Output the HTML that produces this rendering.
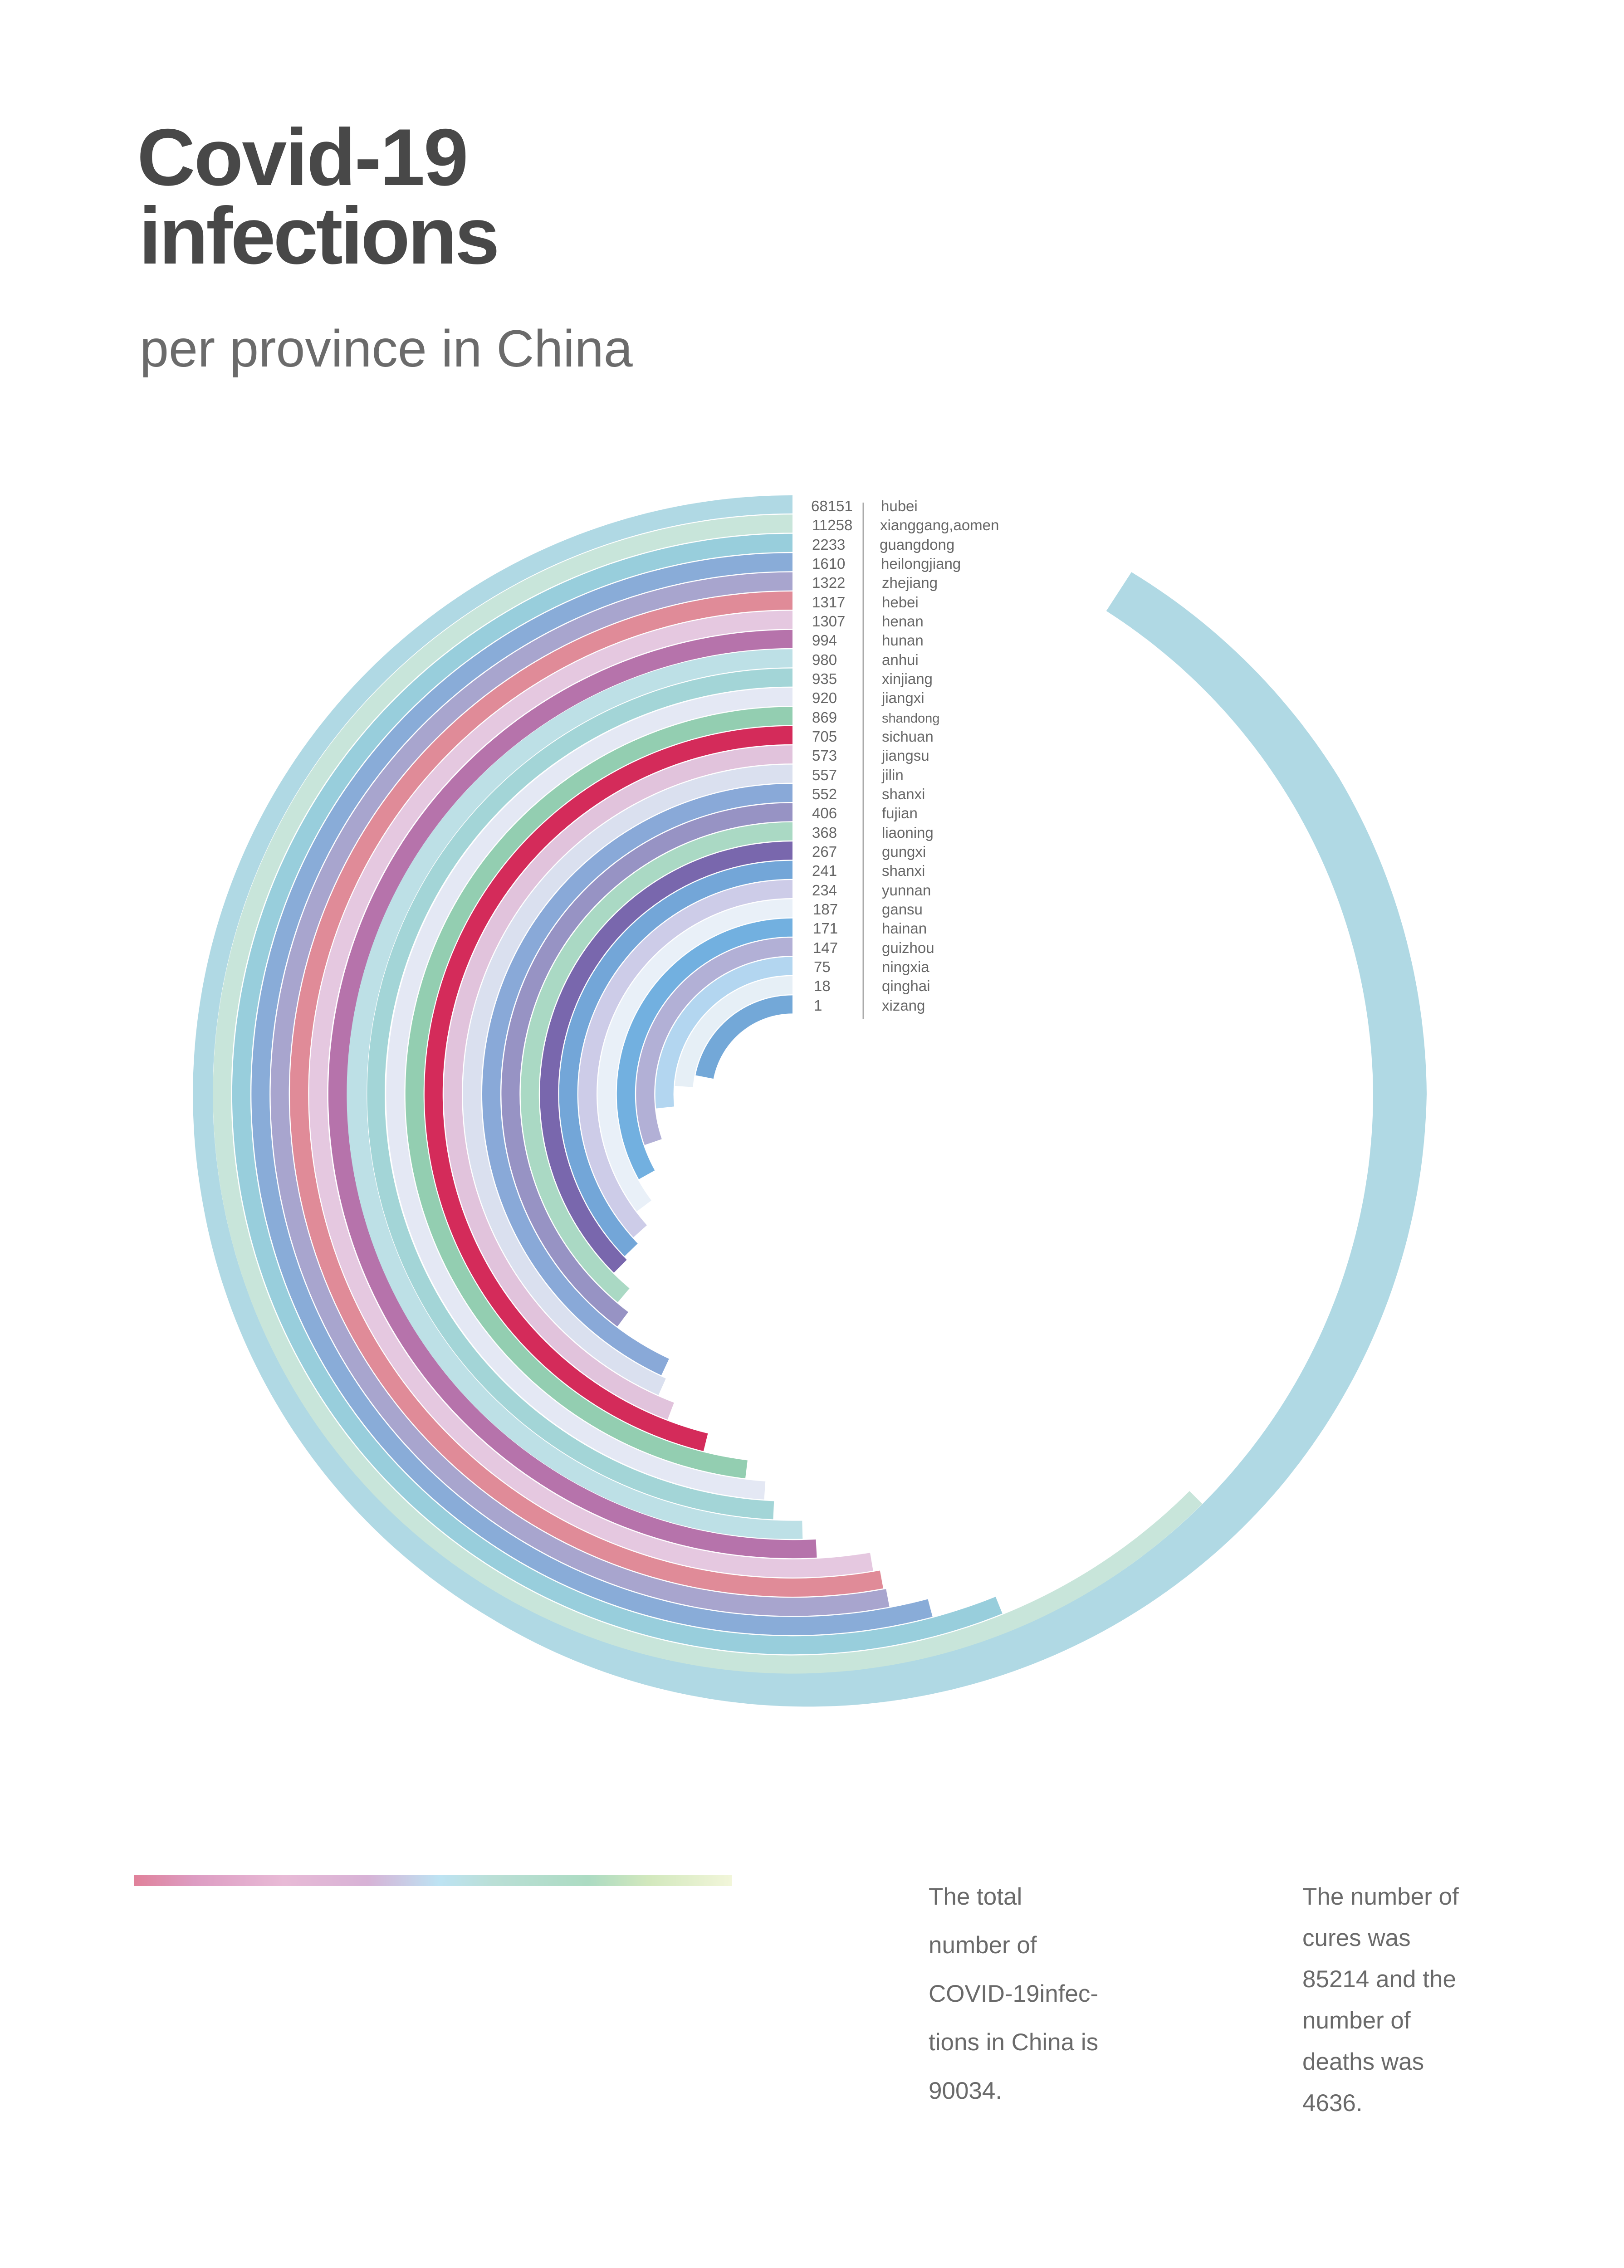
<!DOCTYPE html>
<html><head><meta charset="utf-8"><style>
html,body{margin:0;padding:0;background:#fff;width:3580px;height:5033px;overflow:hidden;}
svg{display:block;}
</style></head><body>
<svg id="s" width="3580" height="5033" viewBox="0 0 3580 5033" xmlns="http://www.w3.org/2000/svg">
<defs>
<linearGradient id="g" x1="0" x2="1" y1="0" y2="0">
<stop offset="0" stop-color="#e0819a"/>
<stop offset="0.1" stop-color="#dd9cc2"/>
<stop offset="0.25" stop-color="#e8bad6"/>
<stop offset="0.39" stop-color="#d7b2d6"/>
<stop offset="0.51" stop-color="#bde3f3"/>
<stop offset="0.6" stop-color="#badfd6"/>
<stop offset="0.76" stop-color="#acdbc2"/>
<stop offset="0.86" stop-color="#d2e8bd"/>
<stop offset="1" stop-color="#f2f6da"/>
</linearGradient>
</defs>
<rect width="3580" height="5033" fill="#fff"/>
<g id="arcs"></g>
<text x="302" y="408" font-family="Liberation Sans, sans-serif" font-weight="bold" font-size="178" fill="#484848" letter-spacing="-3">Covid-19</text>
<text x="306" y="581" font-family="Liberation Sans, sans-serif" font-weight="bold" font-size="178" fill="#484848" letter-spacing="-5">infections</text>
<text x="308" y="808" font-family="Liberation Sans, sans-serif" font-size="115" fill="#6b6b6b">per province in China</text>
<line x1="1903" y1="1108" x2="1903" y2="2246" stroke="#aaa" stroke-width="3"/>
<g id="labels" font-family="Liberation Sans, sans-serif" font-size="33" fill="#666">
<text x="1788" y="1127">68151</text><text x="1942" y="1127">hubei</text>
<text x="1790" y="1169">11258</text><text x="1940" y="1169">xianggang,aomen</text>
<text x="1790" y="1212">2233</text><text x="1939" y="1212">guangdong</text>
<text x="1790" y="1254">1610</text><text x="1942" y="1254">heilongjiang</text>
<text x="1790" y="1296">1322</text><text x="1944" y="1296">zhejiang</text>
<text x="1790" y="1339">1317</text><text x="1944" y="1339">hebei</text>
<text x="1790" y="1381">1307</text><text x="1944" y="1381">henan</text>
<text x="1790" y="1423">994</text><text x="1944" y="1423">hunan</text>
<text x="1790" y="1466">980</text><text x="1944" y="1466">anhui</text>
<text x="1790" y="1508">935</text><text x="1944" y="1508">xinjiang</text>
<text x="1790" y="1550">920</text><text x="1944" y="1550">jiangxi</text>
<text x="1790" y="1593">869</text><text x="1944" y="1593" font-size="29">shandong</text>
<text x="1790" y="1635">705</text><text x="1944" y="1635">sichuan</text>
<text x="1790" y="1677">573</text><text x="1944" y="1677">jiangsu</text>
<text x="1790" y="1720">557</text><text x="1944" y="1720">jilin</text>
<text x="1790" y="1762">552</text><text x="1944" y="1762">shanxi</text>
<text x="1790" y="1804">406</text><text x="1944" y="1804">fujian</text>
<text x="1790" y="1847">368</text><text x="1944" y="1847">liaoning</text>
<text x="1790" y="1889">267</text><text x="1944" y="1889">gungxi</text>
<text x="1790" y="1931">241</text><text x="1944" y="1931">shanxi</text>
<text x="1790" y="1974">234</text><text x="1944" y="1974">yunnan</text>
<text x="1792" y="2016">187</text><text x="1944" y="2016">gansu</text>
<text x="1792" y="2058">171</text><text x="1944" y="2058">hainan</text>
<text x="1792" y="2101">147</text><text x="1944" y="2101">guizhou</text>
<text x="1794" y="2143">75</text><text x="1944" y="2143">ningxia</text>
<text x="1794" y="2185">18</text><text x="1944" y="2185">qinghai</text>
<text x="1794" y="2228">1</text><text x="1944" y="2228">xizang</text>
</g>
<rect x="296" y="4133" width="1318" height="25" fill="url(#g)"/>
<g font-family="Liberation Sans, sans-serif" font-size="53" fill="#6a6a6a">
<text x="2047" y="4199">The total</text>
<text x="2047" y="4306">number of</text>
<text x="2047" y="4413">COVID-19infec-</text>
<text x="2047" y="4520">tions in China is</text>
<text x="2047" y="4627">90034.</text>
<text x="2871" y="4199">The number of</text>
<text x="2871" y="4290">cures was</text>
<text x="2871" y="4381">85214 and the</text>
<text x="2871" y="4472">number of</text>
<text x="2871" y="4563">deaths was</text>
<text x="2871" y="4654">4636.</text>
</g>
</svg>
<script>
(function(){
var cx=1747, cy=2412;
var cols=["#b0d9e4","#c8e5da","#98cedc","#89acd8","#a8a5ce","#e08b98","#e5c8e0","#b673ab","#bde0e6","#a3d5d7","#e4e8f4","#93ceb1","#d42b5a","#e1c3dc","#dae0ef","#89a9d8","#9793c4","#aad9c4","#7967ad","#73a6d8","#cdcce8","#e9f0f8","#72b0e0","#b2b0d6","#b3d6f0","#e6eff6","#73a8d8"];
var sweeps=[327,225,202,195,190.7,190.4,189.6,183,181.3,177.4,176,173,166,159,156,155,143,140,135,134,132,127,119,109,96,86,79];
function pt(r,t){var a=t*Math.PI/180;return [(cx-r*Math.sin(a)).toFixed(1),(cy-r*Math.cos(a)).toFixed(1)];}
var g=document.getElementById('arcs');var html="";
function interp(pts,t){for(var i=0;i<pts.length-1;i++){if(t>=pts[i][0]&&t<=pts[i+1][0]){var f=(t-pts[i][0])/(pts[i+1][0]-pts[i][0]);return pts[i][1]+f*(pts[i+1][1]-pts[i][1]);}}return pts[pts.length-1][1];}
var outP=[[0,1320],[100,1322],[150,1333],[180,1350],[230,1380],[270,1398],[300,1392],[327,1372]];
var inP=[[0,1280],[180,1276],[270,1280],[327,1270]];
var d="M";var t;
for(t=0;t<=327;t+=1){var p=pt(interp(outP,t),t);d+=p[0]+" "+p[1]+" L";}
for(t=327;t>=0;t-=1){var p=pt(interp(inP,t),t);d+=p[0]+" "+p[1]+(t>0?" L":"");}
d+=" Z";
html+='<path d="'+d+'" fill="'+cols[0]+'"/>';
for(var i=1;i<27;i++){
 var R=1320-42.4*i, r=R-40, s=sweeps[i];
 var lg=s>180?1:0;
 var a=pt(R,0),b=pt(R,s),c=pt(r,s),e=pt(r,0);
 var dd="M"+a[0]+" "+a[1]+" A"+R+" "+R+" 0 "+lg+" 0 "+b[0]+" "+b[1]+" L"+c[0]+" "+c[1]+" A"+r+" "+r+" 0 "+lg+" 1 "+e[0]+" "+e[1]+" Z";
 html+='<path d="'+dd+'" fill="'+cols[i]+'"/>';
}
g.innerHTML=html;
})();
</script>
</body></html>
